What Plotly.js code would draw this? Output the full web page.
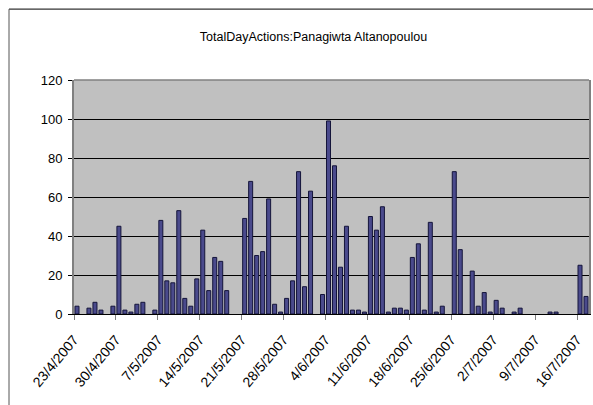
<!DOCTYPE html>
<html>
<head>
<meta charset="utf-8">
<script src="https://cdn.plot.ly/plotly-3.0.1.min.js"></script>
<style>html,body{margin:0;padding:0;background:#fff;}#chart{width:593px;height:405px;}</style>
</head>
<body>
<div id="chart"></div>
<script>
const dates = ['2007-04-23','2007-04-25','2007-04-26','2007-04-27','2007-04-29','2007-04-30','2007-05-01','2007-05-02','2007-05-03','2007-05-04','2007-05-06','2007-05-07','2007-05-08','2007-05-09','2007-05-10','2007-05-11','2007-05-12','2007-05-13','2007-05-14','2007-05-15','2007-05-16','2007-05-17','2007-05-18','2007-05-21','2007-05-22','2007-05-23','2007-05-24','2007-05-25','2007-05-26','2007-05-27','2007-05-28','2007-05-29','2007-05-30','2007-05-31','2007-06-01','2007-06-03','2007-06-04','2007-06-05','2007-06-06','2007-06-07','2007-06-08','2007-06-09','2007-06-10','2007-06-11','2007-06-12','2007-06-13','2007-06-14','2007-06-15','2007-06-16','2007-06-17','2007-06-18','2007-06-19','2007-06-20','2007-06-21','2007-06-22','2007-06-23','2007-06-25','2007-06-26','2007-06-28','2007-06-29','2007-06-30','2007-07-01','2007-07-02','2007-07-03','2007-07-05','2007-07-06','2007-07-11','2007-07-12','2007-07-16','2007-07-17'];
const actions = [4,3,6,2,4,45,2,1,5,6,2,48,17,16,53,8,4,18,43,12,29,27,12,49,68,30,32,59,5,1,8,17,73,14,63,10,99,76,24,45,2,2,1,50,43,55,1,3,3,2,29,36,2,47,1,4,73,33,22,4,11,1,7,3,1,3,1,1,25,9];
const yTicks = [0,20,40,60,80,100,120];
const titleText = 'TotalDayActions:Panagiwta Altanopoulou';

const trace = {
  type: 'bar',
  x: dates,
  y: actions,
  xperiod: 86400000,
  xperiodalignment: 'middle',
  marker: {color: '#4a4a8c', line: {color: '#14143a', width: 1}},
  hoverinfo: 'x+y'
};

const layout = {
  width: 593, height: 405,
  margin: {l: 74, r: 4, t: 80, b: 91},
  paper_bgcolor: '#ffffff',
  plot_bgcolor: '#c0c0c0',
  font: {family: 'Arial, Liberation Sans, sans-serif', size: 13, color: '#000'},
  showlegend: false,
  bargap: 0.33,
  title: {text: titleText, font: {size: 12.5, color: '#000'}, xref: 'paper', x: 0.465, xanchor: 'center', yref: 'container', y: 0.909, yanchor: 'middle'},
  xaxis: {
    type: 'date',
    range: ['2007-04-23', '2007-07-18'],
    tick0: '2007-04-23',
    dtick: 7 * 86400000,
    tickformat: '%-d/%-m/%Y',
    tickangle: -50,
    ticks: 'outside', ticklen: 5, tickcolor: '#808080', tickwidth: 1,
    ticklabelstandoff: 6,
    showgrid: false, zeroline: false,
    showline: true, linecolor: '#000', linewidth: 1,
    tickfont: {size: 14}
  },
  yaxis: {
    range: [0, 120],
    tickvals: yTicks,
    ticks: 'outside', ticklen: 4, tickcolor: '#000',
    ticklabelstandoff: 3,
    showgrid: true, gridcolor: '#000', gridwidth: 1,
    zeroline: false,
    showline: true, linecolor: '#808080', linewidth: 2, mirror: true,
    tickfont: {size: 13}
  },
  shapes: [
    {type: 'line', xref: 'paper', yref: 'paper', x0: 0, x1: 1, y0: 1, y1: 1, line: {color: '#808080', width: 1.5}},
    {type: 'line', xref: 'paper', yref: 'paper', x0: -0.1262, x1: 1.02, y0: 1.303, y1: 1.303, line: {color: '#000', width: 1}},
    {type: 'line', xref: 'paper', yref: 'paper', x0: -0.1262, x1: -0.1262, y0: 1.303, y1: -0.45, line: {color: '#555', width: 1}}
  ]
};

Plotly.newPlot('chart', [trace], layout, {displayModeBar: false, staticPlot: true});
</script>
</body>
</html>
